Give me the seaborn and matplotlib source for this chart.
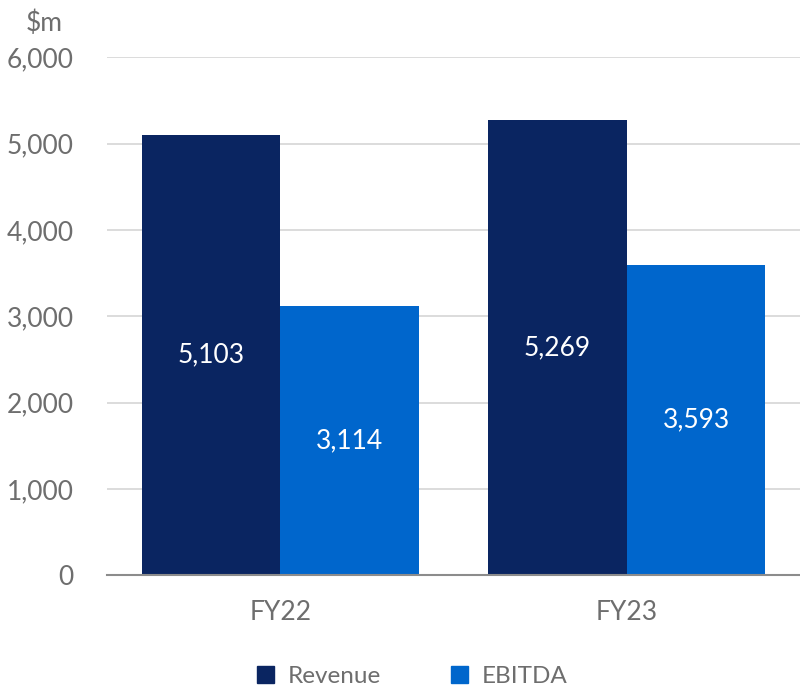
import pandas as pd
import matplotlib.pyplot as plt
import seaborn as sns
from matplotlib.patches import Patch

# Data
years = ["FY22", "FY23"]
revenue = [5103, 5269]
ebitda = [3114, 3593]

df = pd.DataFrame({
    "Year": years * 2,
    "Metric": ["Revenue"] * 2 + ["EBITDA"] * 2,
    "Value": revenue + ebitda,
})

sns.set_style("white")
plt.rcParams["font.family"] = ["Lato", "DejaVu Sans"]

colors = {"Revenue": "#0a2561", "EBITDA": "#0066cc"}
grey = "#6e6e6e"
fs = 19

fig = plt.figure(figsize=(8, 6.89), dpi=100)
ax = fig.add_axes([0.134, 0.165, 0.866, 0.752])

sns.barplot(data=df, x="Year", y="Value", hue="Metric", palette=colors,
            width=0.8, saturation=1, ax=ax, legend=False, zorder=3,
            edgecolor="none")

# Value labels inside bars
for c in ax.containers:
    ax.bar_label(c, labels=[f"{v:,.0f}" for v in c.datavalues],
                 label_type="center", color="white", fontsize=fs)

ax.set_ylim(0, 6000)
ax.set_xlim(-0.5, 1.5)
ax.set_yticks(range(0, 6001, 1000))
ax.set_yticklabels([f"{v:,}" for v in range(0, 6001, 1000)])
ax.yaxis.grid(True, color="#d9d9d9", linewidth=1.3, zorder=0)
ax.tick_params(axis="both", length=0, labelsize=fs, colors=grey)
ax.tick_params(axis="x", pad=18)
ax.tick_params(axis="y", pad=24)
ax.set_xlabel("")
ax.set_ylabel("")
for s in ["top", "right", "left"]:
    ax.spines[s].set_visible(False)
ax.spines["bottom"].set_color("#8c8c8c")
ax.spines["bottom"].set_linewidth(1.5)
ax.spines["bottom"].set_zorder(4)

fig.text(0.055, 0.966, "$m", fontsize=fs, color=grey, ha="center", va="center")

handles = [Patch(color=colors[k]) for k in ["Revenue", "EBITDA"]]
fig.legend(handles, ["Revenue", "EBITDA"], loc="center", bbox_to_anchor=(0.515, 0.018),
           ncol=2, frameon=False, fontsize=17.5, labelcolor=grey,
           handlelength=0.7, handleheight=0.7, handletextpad=0.55, columnspacing=2.9)

fig.savefig("out.png", dpi=100)
